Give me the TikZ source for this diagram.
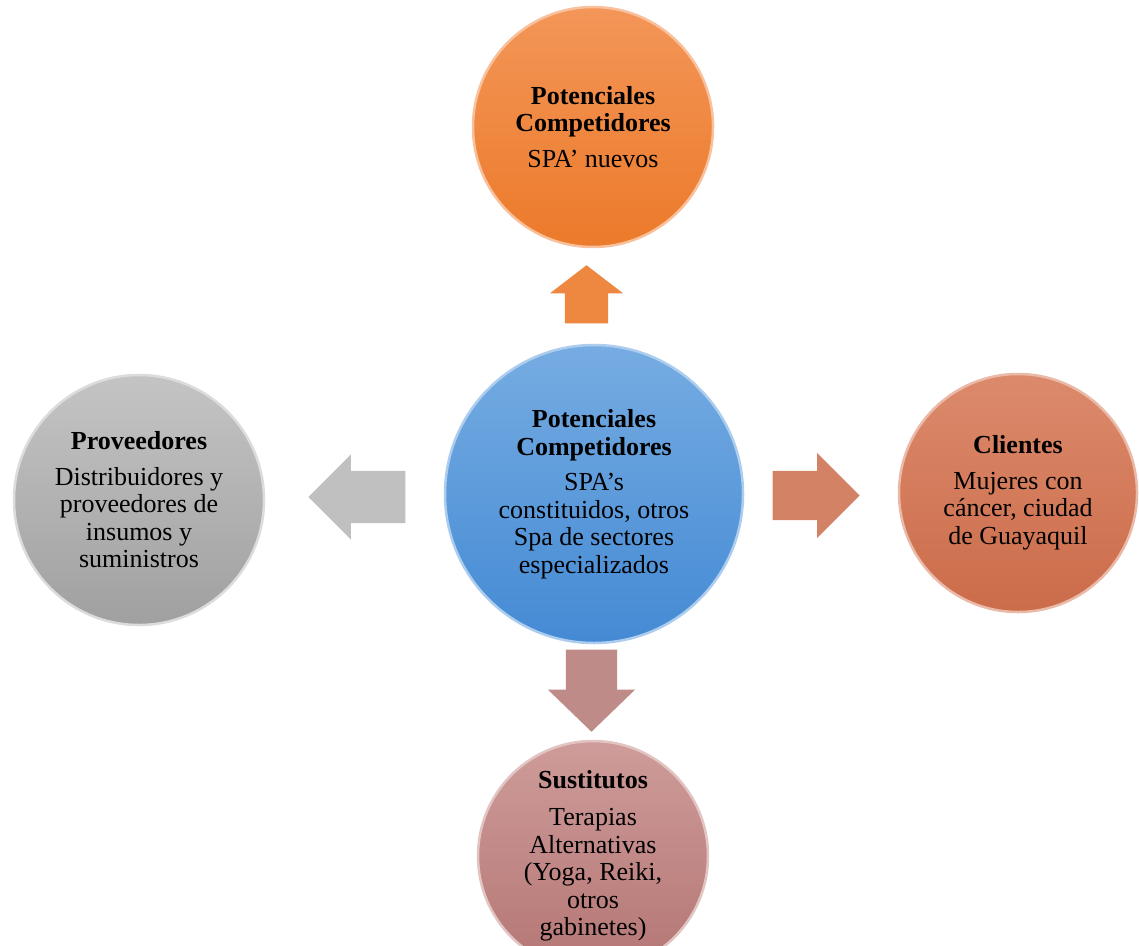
\documentclass[tikz,border=0pt]{standalone}
\usepackage{fontspec}
\setmainfont{Liberation Serif}
\usetikzlibrary{shapes.arrows}
\definecolor{naranja}{RGB}{236,122,42}
\definecolor{naranjaclaro}{RGB}{243,150,88}
\definecolor{azul}{RGB}{68,138,212}
\definecolor{azulclaro}{RGB}{118,172,226}
\definecolor{gris}{RGB}{160,160,160}
\definecolor{grisclaro}{RGB}{196,196,196}
\definecolor{teja}{RGB}{203,108,74}
\definecolor{tejaclaro}{RGB}{220,138,108}
\definecolor{rosa}{RGB}{180,118,116}
\definecolor{rosaclaro}{RGB}{206,156,154}
\tikzset{%
  burbuja/.style={circle, inner sep=0pt, minimum size=#1, align=center,
    font=\fontsize{26}{27.5}\selectfont},% round bubble with text
  glossy/.style 2 args={top color=#2, bottom color=#1, draw=#2!60!white,
    line width=2.5pt},% shaded fill with a light rim
  flecha/.style={shape=single arrow, inner sep=0pt, draw=none, anchor=tip,
    text height=#1/2, text depth=#1/2}% block arrow, #1 = shaft width
}
\newcommand*{\titulo}[2][8pt]{\textbf{#2}\\[#1]}

\begin{document}
\begin{tikzpicture}[x=1pt, y=-1pt]
\useasboundingbox (0,0) rectangle (1139,945);
\fill[white] (0,0) rectangle (1139,945);
\clip (0,0) rectangle (1139,945);

% circles
\node[burbuja=240pt, glossy={naranja}{naranjaclaro}] (nuevos) at (593,127)
  {\textbf{Potenciales}\\\titulo{Competidores}SPA’ nuevos};
\node[burbuja=298pt, glossy={azul}{azulclaro}] (competencia) at (594,494)
  {\textbf{Potenciales}\\\titulo{Competidores}SPA’s\\constituidos, otros\\Spa de sectores\\especializados};
\node[burbuja=250pt, glossy={gris}{grisclaro}] (proveedores) at (139,500)
  {\titulo{Proveedores}Distribuidores y\\proveedores de\\insumos y\\suministros};
\node[burbuja=238pt, glossy={teja}{tejaclaro}] (clientes) at (1018,493)
  {\titulo{Clientes}Mujeres con\\cáncer, ciudad\\de Guayaquil};
\node[burbuja=230pt, glossy={rosa}{rosaclaro}] (sustitutos) at (593,856)
  {\titulo[10pt]{Sustitutos}Terapias\\Alternativas\\(Yoga, Reiki,\\otros\\gabinetes)};

% arrows (placed by their tips)
\node[flecha=43pt, fill=naranja!90!white, rotate=90, minimum height=58pt,
  single arrow head extend=15pt, single arrow tip angle=105] (arriba) at (586.5,265) {};
\node[flecha=52pt, fill=grisclaro!90!gris, rotate=180, minimum height=97pt,
  single arrow head extend=16.5pt] (izquierda) at (308,497) {};
\node[flecha=49pt, fill=teja!85!white, minimum height=87pt,
  single arrow head extend=18pt] (derecha) at (860,495.5) {};
\node[flecha=51pt, fill=rosa!85!white, rotate=-90, minimum height=82pt,
  single arrow head extend=18pt, single arrow tip angle=92] (abajo) at (591.5,732) {};
\end{tikzpicture}
\end{document}
